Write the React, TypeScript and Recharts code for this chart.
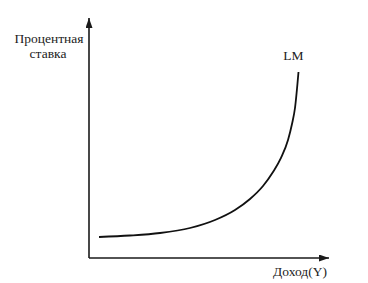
import React from 'react';
import { LineChart, Line, XAxis, YAxis, ReferenceDot, Customized } from 'recharts';

const incomeY = [4.17, 17.08, 29.58, 42.08, 52.5, 60.83, 67.08, 72.5, 76.67, 80.0, 82.92, 84.58, 85.83, 87.29];
const rateR = [8.75, 9.38, 10.42, 12.5, 15.83, 20.0, 24.58, 30.0, 35.83, 41.67, 49.17, 55.83, 62.5, 77.5];
const curveName = 'LM';
const yTitleLines = ['Процентная', 'ставка'];
const xTitle = 'Доход(Y)';

const data = incomeY.map((x, i) => ({ x, r: rateR[i] }));
const last = data[data.length - 1];

const FONT = 'Liberation Serif';

const Decor = () => (
  <g>
    <defs>
      <marker id="arrowHead" markerWidth="11" markerHeight="8" refX="10" refY="3.5" orient="auto-start-reverse" markerUnits="userSpaceOnUse">
        <path d="M0,0 L10,3.5 L0,7 z" fill="#1a1a1a" />
      </marker>
    </defs>
    <text x={49} y={43} textAnchor="middle" fontFamily={FONT} fontSize={13.5} fill="#222">{yTitleLines[0]}</text>
    <text x={48} y={58} textAnchor="middle" fontFamily={FONT} fontSize={13.5} fill="#222">{yTitleLines[1]}</text>
    <text x={300} y={276} textAnchor="middle" fontFamily={FONT} fontSize={13.5} fill="#222">{xTitle}</text>
  </g>
);

export default function App() {
  return (
    <div style={{ position: 'absolute', left: 0, top: 0, background: '#fff' }}>
      <LineChart width={368} height={283} data={data} margin={{ top: 18, left: 88, right: 39, bottom: 24 }}>
        <Customized component={Decor} />
        <XAxis type="number" dataKey="x" domain={[0, 100]} height={1} tick={false} tickLine={false}
          axisLine={{ stroke: '#1a1a1a', strokeWidth: 1.6, markerEnd: 'url(#arrowHead)' } as any} />
        <YAxis type="number" domain={[0, 100]} width={1} tick={false} tickLine={false}
          axisLine={{ stroke: '#1a1a1a', strokeWidth: 1.6, markerStart: 'url(#arrowHead)' } as any} />
        <Line type="monotone" dataKey="r" stroke="#111" strokeWidth={1.8} dot={false} isAnimationActive={false} />
        <ReferenceDot x={last.x} y={last.r} r={0} fill="none" stroke="none"
          label={{ value: curveName, position: 'top', offset: 12, dx: -5, fontFamily: FONT, fontSize: 13.5, fill: '#222' } as any} />
      </LineChart>
    </div>
  );
}
